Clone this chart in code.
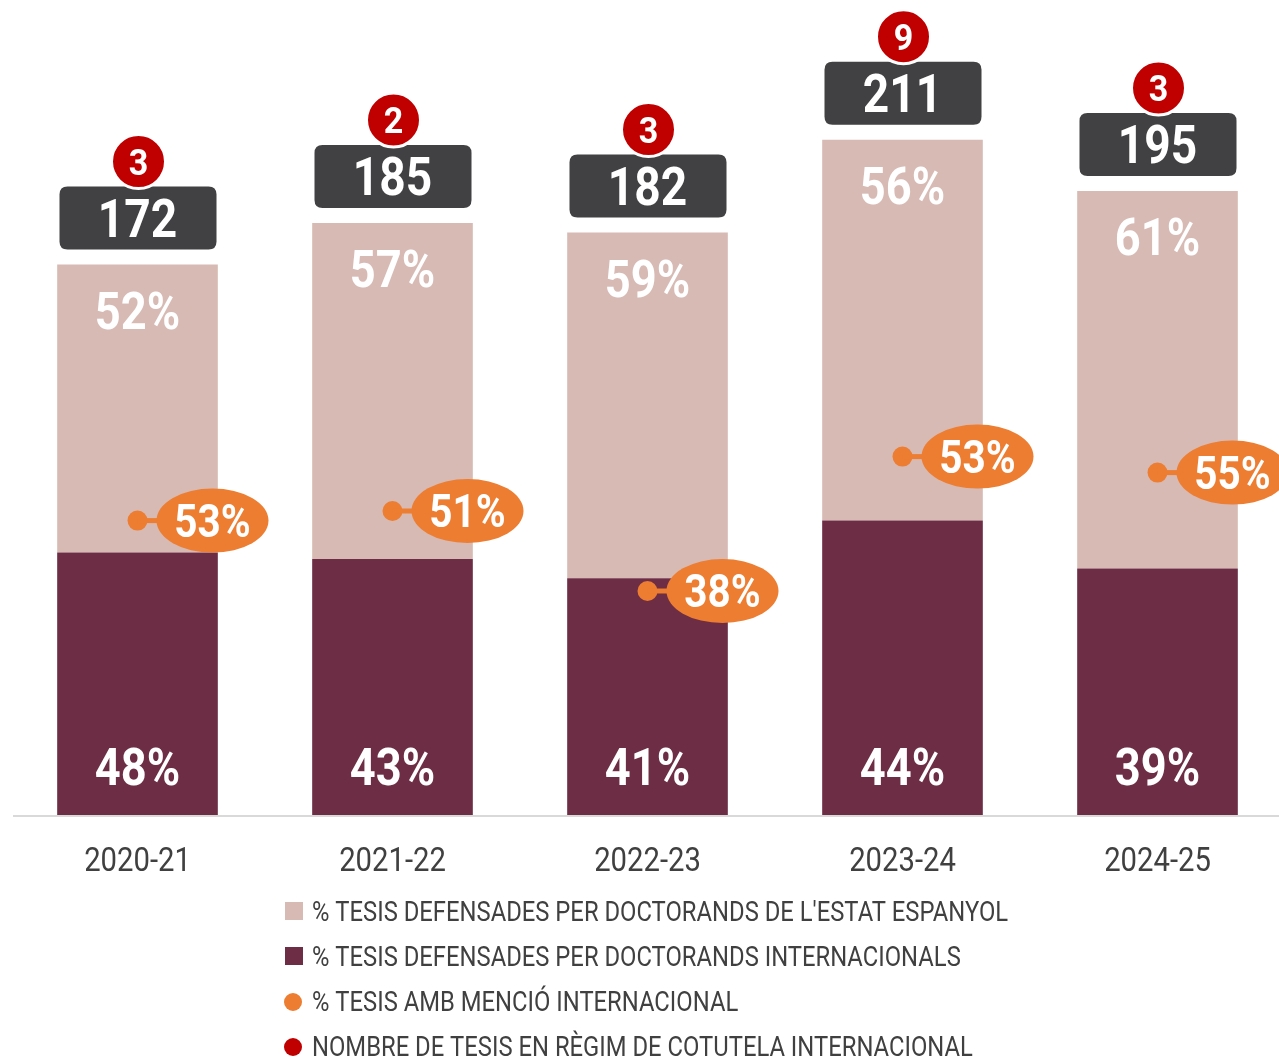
<!DOCTYPE html>
<html>
<head>
<meta charset="utf-8">
<script src="https://cdn.jsdelivr.net/npm/chart.js@4.4.1/dist/chart.umd.min.js"></script>
<style>
  html, body { margin: 0; padding: 0; background: #fff; overflow: hidden; }
  #wrap { position: absolute; left: 0; top: 0; width: 1296px; height: 1058px; }
</style>
</head>
<body>
<div id="wrap"><canvas id="chart"></canvas></div>
<script>
// === DATA ===
const years = ['2020-21', '2021-22', '2022-23', '2023-24', '2024-25'];
const totals = [172, 185, 182, 211, 195];
const intlCounts = [82, 80, 74, 92, 77];        // doctorands internacionals
const spainCounts = [90, 105, 108, 119, 118];   // doctorands de l'estat espanyol
const mencioCounts = [92, 95, 70, 112, 107];    // tesis amb menció internacional
const pctSpain = [52, 57, 59, 56, 61];
const pctIntl = [48, 43, 41, 44, 39];
const pctMencio = [53, 51, 38, 53, 55];
const cotutela = [3, 2, 3, 9, 3];

const legendItems = [
  { text: "% TESIS DEFENSADES PER DOCTORANDS DE L'ESTAT ESPANYOL", color: '#d7bab4', shape: 'square' },
  { text: '% TESIS DEFENSADES PER DOCTORANDS INTERNACIONALS', color: '#6d2d44', shape: 'square' },
  { text: '% TESIS AMB MENCIÓ INTERNACIONAL', color: '#ed7d31', shape: 'circle' },
  { text: 'NOMBRE DE TESIS EN RÈGIM DE COTUTELA INTERNACIONAL', color: '#c00000', shape: 'circle' }
];

const FONT = 'Roboto, "Liberation Sans", sans-serif';

// condensed text: draw with a horizontal squeeze
function narrowText(ctx, text, x, y, size, weight, color, sx, align) {
  ctx.save();
  ctx.font = weight + ' ' + size + 'px ' + FONT;
  ctx.fillStyle = color;
  ctx.textBaseline = 'alphabetic';
  ctx.textAlign = align || 'center';
  ctx.translate(x, y);
  ctx.scale(sx, 1);
  ctx.fillText(text, 0, 0);
  ctx.restore();
}

function roundRect(ctx, x, y, w, h, r) {
  ctx.beginPath();
  ctx.moveTo(x + r, y);
  ctx.lineTo(x + w - r, y);
  ctx.quadraticCurveTo(x + w, y, x + w, y + r);
  ctx.lineTo(x + w, y + h - r);
  ctx.quadraticCurveTo(x + w, y + h, x + w - r, y + h);
  ctx.lineTo(x + r, y + h);
  ctx.quadraticCurveTo(x, y + h, x, y + h - r);
  ctx.lineTo(x, y + r);
  ctx.quadraticCurveTo(x, y, x + r, y);
  ctx.closePath();
}

const decorPlugin = {
  id: 'decor',
  afterDatasetsDraw(chart) {
    const ctx = chart.ctx;
    const area = chart.chartArea;
    const xScale = chart.scales.x;
    const darkMeta = chart.getDatasetMeta(0);
    const lightMeta = chart.getDatasetMeta(1);
    const dotMeta = chart.getDatasetMeta(2);

    // axis line
    ctx.save();
    ctx.strokeStyle = '#d9d9d9';
    ctx.lineWidth = 2;
    ctx.beginPath();
    ctx.moveTo(area.left + 3, area.bottom + 1);
    ctx.lineTo(area.right, area.bottom + 1);
    ctx.stroke();
    ctx.restore();

    years.forEach((yr, i) => {
      const cx = xScale.getPixelForValue(i);
      const top = lightMeta.data[i].y;
      const base = darkMeta.data[i].base;

      // percentages inside bars
      narrowText(ctx, pctSpain[i] + '%', cx, top + 64, 52, 'bold', '#fff', 0.87);
      narrowText(ctx, pctIntl[i] + '%', cx, base - 30, 52, 'bold', '#fff', 0.87);

      // total box
      ctx.save();
      ctx.fillStyle = '#414042';
      roundRect(ctx, cx - 78, top - 78, 157, 63, 8);
      ctx.fill();
      ctx.restore();
      narrowText(ctx, String(totals[i]), cx, top - 28, 53, 'bold', '#fff', 0.87);

      // cotutela circle
      const ry = top - 103;
      ctx.save();
      ctx.beginPath();
      ctx.arc(cx + 1, ry, 27, 0, Math.PI * 2);
      ctx.fillStyle = '#c00000';
      ctx.fill();
      ctx.lineWidth = 3;
      ctx.strokeStyle = '#fff';
      ctx.stroke();
      ctx.restore();
      narrowText(ctx, String(cotutela[i]), cx + 1, ry + 13, 37, 'bold', '#fff', 0.92);

      // menció bubble
      const pt = dotMeta.data[i];
      ctx.save();
      ctx.fillStyle = '#ed7d31';
      ctx.strokeStyle = '#ed7d31';
      ctx.lineWidth = 5;
      ctx.beginPath();
      ctx.moveTo(pt.x, pt.y);
      ctx.lineTo(pt.x + 30, pt.y);
      ctx.stroke();
      ctx.beginPath();
      ctx.ellipse(pt.x + 75, pt.y, 56, 32, 0, 0, Math.PI * 2);
      ctx.fill();
      ctx.restore();
      narrowText(ctx, pctMencio[i] + '%', pt.x + 75, pt.y + 16, 46, 'bold', '#fff', 0.88);

      // category label
      narrowText(ctx, yr, cx, area.bottom + 56, 34, 'normal', '#404040', 0.86);
    });

    // legend
    legendItems.forEach((it, k) => {
      const y = 911 + k * 45;
      ctx.save();
      ctx.fillStyle = it.color;
      if (it.shape === 'square') {
        ctx.fillRect(285, y - 9, 18, 18);
      } else {
        ctx.beginPath();
        ctx.arc(293, y + 1, 9, 0, Math.PI * 2);
        ctx.fill();
      }
      ctx.restore();
      narrowText(ctx, it.text, 312, y + 10, 28, 'normal', '#404040', 0.85, 'left');
    });
  }
};

new window.Chart(document.getElementById('chart'), {
  data: {
    labels: years,
    datasets: [
      { type: 'bar', label: 'internacionals', data: intlCounts, backgroundColor: '#6d2d44', order: 1, stack: 'tesis' },
      { type: 'bar', label: 'estat espanyol', data: spainCounts, backgroundColor: '#d7bab4', order: 2, stack: 'tesis' },
      { type: 'line', label: 'menció', data: mencioCounts, showLine: false, order: 0, stack: 'mencio',
        pointRadius: 10, pointBackgroundColor: '#ed7d31', pointBorderWidth: 0, borderColor: '#ed7d31' }
    ]
  },
  options: {
    responsive: true,
    maintainAspectRatio: false,
    animation: false,
    layout: { padding: { left: 5, right: 11, top: 15, bottom: 243 } },
    datasets: { bar: { categoryPercentage: 0.63, barPercentage: 1 } },
    plugins: { legend: { display: false }, tooltip: { enabled: false } },
    scales: {
      x: { display: false, stacked: true },
      y: { display: false, stacked: true, min: 0, max: 250 }
    }
  },
  plugins: [decorPlugin]
});
</script>
</body>
</html>
